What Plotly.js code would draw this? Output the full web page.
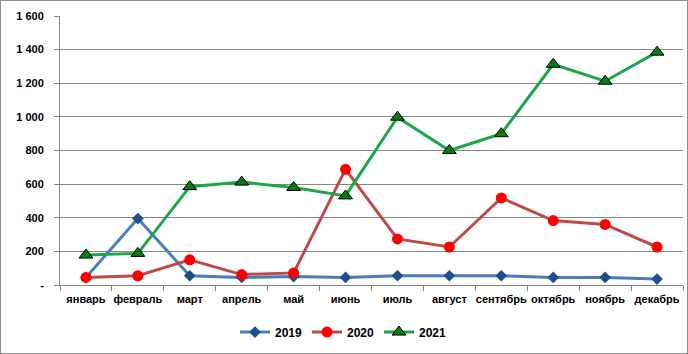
<!DOCTYPE html>
<html>
<head>
<meta charset="utf-8">
<script src="https://cdn.plot.ly/plotly-3.0.1.min.js"></script>
<style>
html,body{margin:0;padding:0;background:#fff;}
#chart{width:686px;height:352px;border:1px solid #8c8c8c;}
</style>
</head>
<body>
<div id="chart"></div>
<script>
const months = ["январь","февраль","март","апрель","май","июнь","июль","август","сентябрь","октябрь","ноябрь","декабрь"];
const v2019 = [45, 395, 55, 45, 50, 45, 55, 55, 55, 45, 45, 35];
const v2020 = [45, 55, 150, 62, 72, 688, 274, 226, 518, 383, 360, 226];
const v2021 = [178, 188, 585, 612, 580, 530, 998, 800, 900, 1313, 1212, 1385];
const yTickVals = [0, 200, 400, 600, 800, 1000, 1200, 1400, 1600];
const yTickText = ["-", "200", "400", "600", "800", "1 000", "1 200", "1 400", "1 600"];

const fam = "Liberation Sans, Arial, sans-serif";

const traces = [
  {name: "2019", x: months, y: v2019, type: "scatter", mode: "lines+markers",
   line: {color: "#4a7ebb", width: 3},
   marker: {symbol: "diamond", size: 9, color: "#1f4e8c"}},
  {name: "2020", x: months, y: v2020, type: "scatter", mode: "lines+markers",
   line: {color: "#be4b48", width: 3},
   marker: {symbol: "circle", size: 11, color: "#ff0000"}},
  {name: "2021", x: months, y: v2021, type: "scatter", mode: "lines+markers",
   line: {color: "#1ca64c", width: 3},
   marker: {symbol: "triangle-up", size: 12, color: "#0b7a10", line: {color: "#000", width: 1}}}
];

const layout = {
  width: 686, height: 352,
  margin: {l: 59, r: 4, t: 15, b: 68},
  paper_bgcolor: "#fff", plot_bgcolor: "#fff",
  font: {family: fam, size: 11, color: "#000"},
  showlegend: true,
  legend: {orientation: "h", x: 0.455, xanchor: "center", y: -0.175, yanchor: "middle",
           font: {family: fam, size: 12, color: "#000", weight: "bold"},
           itemwidth: 30, tracegroupgap: 0},
  xaxis: {type: "category", range: [-0.5, 11.5], tickson: "boundaries", tickangle: 0,
          ticks: "outside", ticklen: 5, tickcolor: "#868686",
          showline: true, linecolor: "#868686", linewidth: 1,
          showgrid: false, zeroline: false, ticklabelstandoff: 4,
          tickfont: {family: fam, size: 11, color: "#000", weight: "bold"}},
  yaxis: {range: [0, 1600], tickvals: yTickVals, ticktext: yTickText,
          ticks: "outside", ticklen: 5, tickcolor: "#868686",
          showline: true, linecolor: "#868686", linewidth: 1,
          showgrid: true, gridcolor: "#868686", gridwidth: 1, zeroline: false,
          ticklabelstandoff: 8,
          tickfont: {family: fam, size: 11, color: "#000", weight: "bold"}}
};

Plotly.newPlot("chart", traces, layout, {displayModeBar: false, staticPlot: true});
</script>
</body>
</html>
